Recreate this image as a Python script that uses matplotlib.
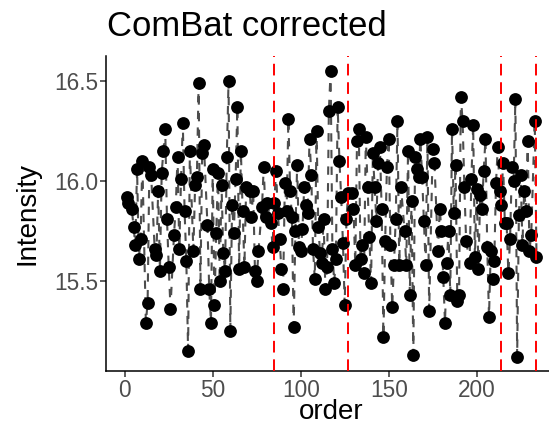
# plot.py - ComBat corrected intensity vs run order

import numpy as np
import matplotlib
matplotlib.use("Agg")
import matplotlib.pyplot as plt

# data (order, intensity)
order = [
    1, 2, 4, 5, 6, 7, 8, 9, 10, 12, 13, 14, 15, 17, 18, 19, 20, 21, 22, 23,
    24, 25, 26, 28, 29, 30, 31, 32, 33, 34, 35, 36, 37, 39, 40, 41, 42, 43, 44, 45,
    47, 48, 49, 50, 51, 52, 53, 54, 55, 56, 57, 58, 59, 60, 61, 62, 63, 64, 65, 66,
    67, 68, 69, 71, 72, 73, 74, 75, 76, 78, 79, 80, 81, 83, 84, 85, 86, 87, 88, 89,
    90, 91, 92, 93, 94, 95, 96, 97, 98, 99, 100, 101, 102, 103, 104, 105, 106, 107, 108, 109,
    110, 111, 112, 113, 114, 115, 116, 117, 118, 119, 120, 121, 122, 123, 124, 125, 126, 127, 129, 130,
    131, 132, 133, 134, 135, 136, 137, 138, 139, 140, 141, 142, 143, 144, 145, 146, 147, 148, 149, 150,
    151, 152, 153, 154, 155, 156, 157, 159, 160, 161, 162, 163, 164, 165, 166, 167, 168, 169, 170, 171,
    172, 173, 175, 176, 178, 179, 180, 181, 182, 183, 184, 185, 186, 187, 188, 189, 190, 191, 192, 193,
    194, 196, 197, 198, 199, 200, 201, 202, 203, 204, 205, 206, 207, 208, 209, 210, 211, 212, 213, 214,
    215, 216, 217, 218, 219, 220, 221, 222, 223, 224, 225, 226, 227, 228, 229, 230, 231, 233, 234,
]
intensity = [
    15.92, 15.89, 15.86, 15.77, 15.68, 16.06, 15.61, 15.71, 16.10, 15.29, 15.39, 16.07, 16.03, 15.66, 15.63, 15.95, 15.55, 16.04, 16.15, 16.26,
    15.81, 15.57, 15.36, 15.73, 15.87, 16.12, 15.66, 16.01, 16.29, 15.85, 15.60, 15.15, 16.15, 15.65, 15.98, 16.02, 16.49, 15.46, 16.14, 16.18,
    15.78, 15.46, 15.29, 16.06, 15.38, 15.74, 16.04, 15.50, 15.98, 15.64, 15.55, 16.12, 16.50, 15.25, 15.88, 15.74, 16.01, 16.37, 15.56, 16.15,
    15.85, 15.57, 15.97, 15.95, 15.82, 15.95, 15.55, 15.50, 15.65, 15.87, 16.07, 15.82, 15.89, 15.79, 15.67, 15.89, 16.05, 15.84, 15.71, 15.56,
    15.46, 15.99, 15.85, 16.31, 15.95, 15.82, 15.27, 15.75, 16.08, 15.67, 15.65, 15.76, 15.97, 15.88, 15.84, 16.21, 16.03, 15.66, 15.51, 16.25,
    15.77, 15.64, 15.59, 15.81, 15.46, 15.57, 16.35, 16.55, 15.66, 15.49, 15.61, 16.37, 16.10, 15.92, 15.69, 15.38, 15.81, 15.94, 15.94, 15.86,
    15.58, 16.20, 16.26, 15.61, 15.68, 15.54, 16.22, 15.97, 15.72, 15.49, 16.14, 15.97, 15.80, 16.09, 16.17, 15.86, 15.22, 15.70, 16.07, 16.21,
    15.68, 15.37, 15.58, 15.81, 16.30, 15.58, 15.97, 15.75, 15.58, 16.15, 15.43, 15.90, 15.13, 16.12, 16.06, 16.02, 16.21, 16.02, 15.80, 15.58,
    16.22, 15.35, 16.16, 16.09, 15.65, 15.86, 15.75, 15.52, 15.29, 15.59, 15.75, 15.43, 16.26, 15.84, 16.08, 15.40, 15.43, 16.42, 16.30, 15.97,
    15.70, 15.59, 16.01, 16.28, 15.62, 15.96, 15.56, 15.93, 15.86, 16.05, 16.21, 15.67, 15.32, 15.65, 15.51, 15.60, 15.99, 16.17, 15.95, 15.88,
    16.09, 15.79, 15.79, 15.54, 15.71, 16.07, 16.00, 16.41, 15.12, 15.83, 16.03, 15.68, 15.95, 15.85, 16.20, 15.65, 15.73, 16.30, 15.62,
]
batch_lines = [85, 127, 214, 234]
x_ticks = [0, 50, 100, 150, 200]
y_ticks = [15.5, 16.0, 16.5]

plt.rcParams["font.family"] = ["Liberation Sans", "DejaVu Sans"]

W, H = 549, 438
fig = plt.figure(figsize=(W / 100, H / 100), dpi=100)

# panel placement in pixels (panel runs past the right edge like the reference)
left_px, bottom_px, top_px, width_px = 106, 371, 56.4, 451
ax = fig.add_axes([left_px / W, (H - bottom_px) / H, width_px / W, (bottom_px - top_px) / H])

ax.plot(order, intensity, color="#4D4D4D", lw=1.5, ls=(0, (4, 4)), zorder=2)
ax.scatter(order, intensity, s=85, color="black", zorder=3, linewidths=0)
for xv in batch_lines:
    ax.axvline(xv, color="#FF0000", lw=1.4, ls=(0, (6, 3.5)), zorder=4)

# ggplot style 5% expansion
xmin, xmax = min(order), max(order)
ymin, ymax = min(intensity), max(intensity)
xpad = 0.05 * (xmax - xmin)
ypad = 0.05 * (ymax - ymin)
ax.set_xlim(xmin - xpad, xmax + xpad)
ax.set_ylim(ymin - ypad, ymax + ypad)

ax.set_xticks(x_ticks)
ax.set_yticks(y_ticks)
ax.set_yticklabels([f"{v:.1f}" for v in y_ticks])

for side in ["top", "right"]:
    ax.spines[side].set_visible(False)
for side in ["left", "bottom"]:
    ax.spines[side].set_linewidth(1.1)
    ax.spines[side].set_color("black")

ax.tick_params(axis="both", length=4, width=1.1, color="#333333",
               labelsize=16.3, labelcolor="#4D4D4D", pad=1.5)

ax.set_xlabel("order", fontsize=20, va="center")
ax.xaxis.set_label_coords(0.5, -0.13)
ax.set_ylabel("Intensity", fontsize=20, va="center")
ax.yaxis.set_label_coords(-0.175, 0.5)

fig.text(107 / W, 1 - 36 / H, "ComBat corrected", fontsize=24.9, ha="left", va="baseline")

fig.savefig("out.png", dpi=100)
